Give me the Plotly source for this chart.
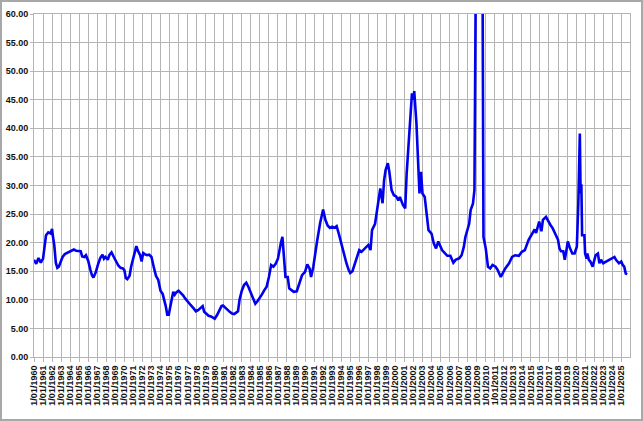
import plotly.graph_objects as go

dates = [
    "1960-01", "1960-04", "1960-07", "1960-10", "1960-12",
    "1961-01", "1961-05", "1961-08", "1961-11",
    "1962-01", "1962-02", "1962-04", "1962-06", "1962-08", "1962-10",
    "1963-01", "1963-03", "1963-06", "1963-09", "1963-12",
    "1964-03", "1964-06", "1964-09", "1964-12",
    "1965-03", "1965-05", "1965-08", "1965-10",
    "1966-01", "1966-04", "1966-06", "1966-08", "1966-11",
    "1967-02", "1967-05", "1967-08", "1967-10", "1967-12",
    "1968-03", "1968-05", "1968-08", "1968-11",
    "1969-02", "1969-05", "1969-08", "1969-11",
    "1970-01", "1970-03", "1970-05", "1970-08", "1970-10", "1970-12",
    "1971-03", "1971-05", "1971-07", "1971-10", "1971-12",
    "1972-02", "1972-04", "1972-07", "1972-10",
    "1973-01", "1973-04", "1973-07", "1973-10",
    "1974-01", "1974-04", "1974-06", "1974-08", "1974-10", "1974-12",
    "1975-02", "1975-04", "1975-06", "1975-08", "1975-10",
    "1976-01", "1976-04", "1976-07", "1976-10",
    "1977-01", "1977-05", "1977-09", "1977-12",
    "1978-03", "1978-06", "1978-09", "1978-11",
    "1979-02", "1979-05", "1979-08", "1979-10",
    "1980-01", "1980-04", "1980-07", "1980-10", "1980-12",
    "1981-03", "1981-06", "1981-09", "1981-12",
    "1982-03", "1982-06", "1982-08", "1982-10",
    "1983-01", "1983-04", "1983-07", "1983-10",
    "1984-01", "1984-04", "1984-07", "1984-10",
    "1985-01", "1985-04", "1985-07", "1985-10",
    "1986-01", "1986-04", "1986-07", "1986-10",
    "1987-01", "1987-03", "1987-05", "1987-07", "1987-08", "1987-11",
    "1988-02", "1988-04", "1988-07", "1988-10",
    "1989-02", "1989-06", "1989-09",
    "1990-01", "1990-04", "1990-07", "1990-09", "1990-12",
    "1991-02", "1991-05", "1991-09",
    "1992-01", "1992-04", "1992-07", "1992-10",
    "1993-01", "1993-04", "1993-07", "1993-10",
    "1994-02", "1994-05", "1994-08", "1994-11",
    "1995-01", "1995-04", "1995-08",
    "1996-01", "1996-04", "1996-08",
    "1997-01", "1997-04", "1997-06", "1997-10",
    "1998-01", "1998-03", "1998-05", "1998-08", "1998-10", "1998-12",
    "1999-03", "1999-05", "1999-08", "1999-11",
    "2000-02", "2000-05", "2000-07", "2000-11",
    "2001-02", "2001-04", "2001-07", "2001-10", "2001-11",
    "2002-01", "2002-02", "2002-05", "2002-07", "2002-09", "2002-11",
    "2003-01", "2003-04", "2003-09",
    "2004-01", "2004-04", "2004-07", "2004-10",
    "2005-03", "2005-07", "2005-10",
    "2006-02", "2006-06", "2006-09",
    "2007-02", "2007-05", "2007-08", "2007-10",
    "2008-01", "2008-03", "2008-05", "2008-08", "2008-10", "2008-12",
    "2009-03", "2009-06", "2009-08", "2009-10",
    "2010-01", "2010-04", "2010-07", "2010-10",
    "2011-02", "2011-05", "2011-09", "2011-11",
    "2012-03", "2012-08", "2012-12",
    "2013-04", "2013-09",
    "2014-01", "2014-05", "2014-10",
    "2015-03", "2015-06", "2015-08", "2015-12",
    "2016-03", "2016-05", "2016-09", "2016-12",
    "2017-03", "2017-06", "2017-09",
    "2018-01", "2018-03", "2018-05", "2018-08", "2018-10", "2018-12",
    "2019-02", "2019-05", "2019-08", "2019-11",
    "2020-02", "2020-04", "2020-06", "2020-07", "2020-08", "2020-09", "2020-12",
    "2021-01", "2021-03", "2021-04", "2021-06", "2021-08", "2021-11",
    "2022-03", "2022-06", "2022-08", "2022-10",
    "2023-01", "2023-06", "2023-12",
    "2024-04", "2024-06", "2024-10",
    "2025-01", "2025-03", "2025-05", "2025-07", "2025-09",
]

pe_values = [
    17.0, 16.3, 17.3, 16.5, 17.0,
    17.2, 21.3, 21.8, 21.6,
    22.4, 21.2, 19.5, 16.5, 15.6, 15.8,
    16.8, 17.5, 18.0, 18.2, 18.3,
    18.5, 18.8, 18.6, 18.6,
    18.5, 17.6, 17.5, 17.8,
    16.8, 15.2, 14.3, 13.9, 14.8,
    16.2, 17.3, 17.9, 17.2, 17.5,
    17.0, 17.8, 18.3, 17.5,
    16.6, 16.0, 15.6, 15.5,
    15.2, 13.8, 13.6, 14.2, 15.8, 17.0,
    18.6, 19.4, 18.6, 17.8, 16.7,
    18.2, 18.0, 17.8, 17.9,
    17.5, 15.8, 14.2, 13.5,
    11.6, 11.0, 10.0, 8.9, 7.4, 7.4,
    8.8, 10.2, 11.4, 10.9, 11.3,
    11.6, 11.2, 10.8, 10.2,
    9.8, 9.1, 8.5, 8.0,
    8.2, 8.6, 8.9, 7.9,
    7.5, 7.2, 7.1, 6.9,
    6.7, 7.3, 8.2, 8.9, 9.0,
    8.6, 8.3, 7.9, 7.6,
    7.5, 7.8, 8.0, 10.0,
    11.6, 12.6, 13.0, 12.2,
    11.2, 10.2, 9.3, 9.8,
    10.3, 11.0, 11.7, 12.3,
    14.0, 16.1, 15.8, 16.3,
    17.2, 19.0, 20.0, 21.0, 19.5, 14.0,
    14.0, 12.0, 11.7, 11.4,
    11.5, 12.9, 14.3,
    14.9, 16.2, 15.5, 14.0, 15.8,
    17.8, 20.2, 23.4,
    25.8, 24.0, 23.0, 22.6,
    22.8, 22.6, 22.9, 21.5,
    19.3, 17.8, 16.4, 15.2,
    14.7, 15.0, 16.7,
    18.7, 18.4, 19.0,
    19.6, 18.7, 22.2, 23.3,
    26.3, 28.0, 29.5, 26.9, 30.9, 32.7,
    33.9, 32.4, 29.2, 28.3,
    28.1, 27.4, 28.0, 26.6,
    26.0, 32.1, 37.4, 42.6, 46.1,
    45.0, 46.5, 40.9, 33.9, 28.6, 32.4,
    28.6, 28.0, 22.2,
    21.6, 19.9, 19.0, 20.2,
    18.7, 18.1, 17.7,
    17.7, 16.5, 17.0,
    17.3, 17.8, 19.3, 21.0,
    22.5, 23.3, 25.7, 26.8, 29.2, 70.9,
    110.4, 122.4, 95.0, 21.0,
    19.0, 15.8, 15.5, 16.1,
    15.8, 15.2, 14.0, 14.6,
    15.5, 16.4, 17.5,
    17.8, 17.7,
    18.4, 18.7, 20.5,
    21.7, 22.3, 21.7, 23.7,
    22.0, 24.0, 24.5, 23.7,
    23.1, 22.5, 21.7,
    20.5, 19.0, 18.5, 18.5, 17.0, 18.5,
    20.2, 19.0, 18.1, 18.1,
    19.3, 26.9, 39.1, 28.6, 30.2, 21.3, 21.3,
    18.1, 17.2, 18.1, 17.0, 16.7, 15.8,
    17.8, 18.1, 16.4, 17.0,
    16.4, 16.7, 17.2,
    17.5, 17.0, 16.4,
    16.7, 16.1, 15.8, 14.6, 14.5,
]

GRID = "#b4b4b4"
FONT = "Liberation Sans, Arial, sans-serif"

fig = go.Figure()
fig.add_trace(go.Scatter(
    x=dates, y=pe_values, mode="lines",
    line=dict(color="#0000ee", width=2.6),
    showlegend=False, hoverinfo="x+y",
))

# figure is 639x417, placed 2px in from the page edge so a grey frame shows round it
fig.update_layout(
    width=639, height=417,
    margin=dict(l=32, r=11, t=12, b=62, autoexpand=False),
    paper_bgcolor="white", plot_bgcolor="white",
    font=dict(family=FONT, size=9, color="#111111"),
)

fig.update_xaxes(
    type="date",
    range=["1960-01-01", "2025-12-20"],
    tick0="1960-01-01", dtick="M12",
    tickformat="%-m/%d/%Y",
    tickangle=-90,
    tickfont=dict(family=FONT, size=9, color="#111111", weight="bold"),
    showgrid=True, gridcolor=GRID, gridwidth=1,
    ticks="outside", ticklen=4, tickcolor=GRID,
    showline=True, mirror=True, linecolor=GRID, linewidth=1,
    zeroline=False, automargin=False,
)

fig.update_yaxes(
    range=[0, 60], dtick=5, tick0=0,
    tickformat=".2f",
    tickfont=dict(family=FONT, size=9, color="#111111", weight="bold"),
    showgrid=True, gridcolor=GRID, gridwidth=1,
    ticks="outside", ticklen=3, tickcolor=GRID,
    showline=True, mirror=True, linecolor=GRID, linewidth=1,
    zeroline=False, automargin=False,
)

fig.write_html(
    "out.html",
    config={"displayModeBar": False},
    post_script=(
        "document.documentElement.style.background='#a8a8a8';"
        "document.body.style.background='#a8a8a8';"
        "document.body.style.margin='2px';document.body.style.padding='0';"
    ),
)
